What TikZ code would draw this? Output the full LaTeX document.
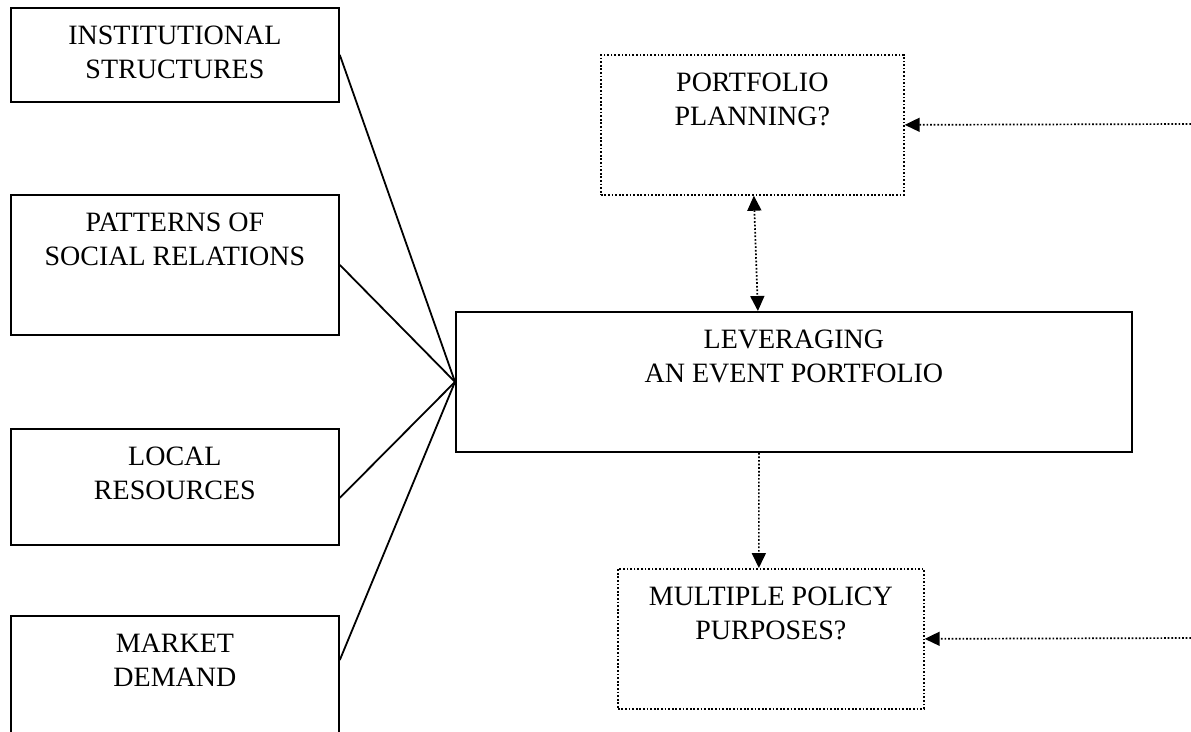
\documentclass[tikz,border=0pt]{standalone}
\usepackage{fontspec}
\setmainfont{Liberation Serif}
\usetikzlibrary{arrows.meta}
\newcommand{\boxlines}[3]{\parbox[c][#1][t]{#2}{\centering\rule{0pt}{37pt}#3}}
\tikzset{
  solidbox/.style={draw, line width=1.8pt, inner sep=0pt, anchor=north west,
    font=\fontsize{28}{34}\selectfont},
  dotbox/.style={solidbox, line width=1.7pt, dash pattern=on 1.7pt off 1.9pt},
  link/.style={line width=1.8pt},
  dotline/.style={line width=1.7pt, dash pattern=on 1.7pt off 1.9pt},
  tip/.style={-{Triangle[length=15pt,width=14pt]}},
  bitip/.style={{Triangle[length=15pt,width=14pt]}-{Triangle[length=15pt,width=14pt]}}
}
\begin{document}
\begin{tikzpicture}[x=1pt,y=-1pt]
\useasboundingbox (0,0) rectangle (1191,731);
\clip (0,0) rectangle (1191,731);
\fill[white] (0,0) rectangle (1191,731);

\node[solidbox] (b1) at (10,7) {\boxlines{94pt}{328pt}{INSTITUTIONAL\\STRUCTURES}};
\node[solidbox] (b2) at (10,194) {\boxlines{140pt}{328pt}{PATTERNS OF\\SOCIAL RELATIONS}};
\node[solidbox] (b3) at (10,428) {\boxlines{116pt}{328pt}{LOCAL\\RESOURCES}};
\node[solidbox] (b4) at (10,615) {\boxlines{140pt}{328pt}{MARKET\\DEMAND}};

\node[solidbox] (c) at (455,311) {\boxlines{140pt}{676pt}{LEVERAGING\\AN EVENT PORTFOLIO}};
\node[dotbox] (p) at (600,54) {\boxlines{140pt}{303pt}{PORTFOLIO\\PLANNING?}};
\node[dotbox] (m) at (617,568) {\boxlines{140pt}{306pt}{MULTIPLE POLICY\\PURPOSES?}};

\draw[link] (b1.east) -- (c.west);
\draw[link] (b2.east) -- (c.west);
\draw[link] ([yshift=-11pt]b3.east) -- (c.west);
\draw[link] ([yshift=-45pt]b4.north east) -- (c.west);

\coordinate (pin) at (1191,124);
\coordinate (min) at (1191,638);
\draw[dotline, tip] (pin) -- (p.east);
\draw[dotline, tip] (min) -- (m.east);
\draw[dotline, bitip] ([xshift=1.5pt]p.south) -- ([xshift=-36pt]c.north);
\draw[dotline, tip] ([xshift=-35pt]c.south) -- ([xshift=-12pt]m.north);
\end{tikzpicture}
\end{document}
